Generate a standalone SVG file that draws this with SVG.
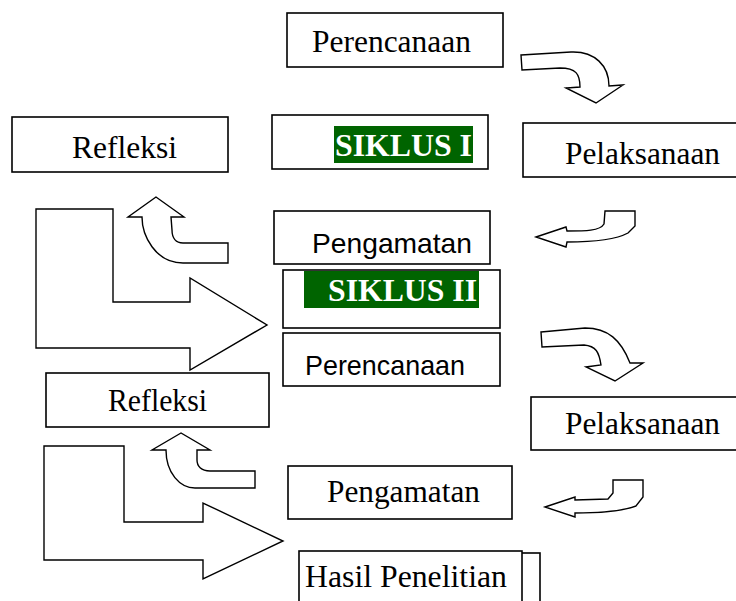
<svg xmlns="http://www.w3.org/2000/svg" width="736" height="601" viewBox="0 0 736 601">
<style>
.box{fill:#fff;stroke:#000;stroke-width:1.6}
.arr{fill:#fff;stroke:#000;stroke-width:1.4;stroke-linejoin:miter}
.serif{font-family:"Liberation Serif","Times New Roman",serif;font-size:31.5px;fill:#000}
.sans{font-family:"Liberation Sans",Arial,sans-serif;font-size:28px;fill:#000}
.bold{font-family:"Liberation Serif","Times New Roman",serif;font-size:32px;font-weight:bold;fill:#fff}
.hl{fill:#006400}
</style>
<rect width="736" height="601" fill="#fff"/>
<g id="connectors">
<path class="arr" d="M521,55 L571,52 C595,51 609,66 609,86 L623,85 L596,103 L566,88 L580,87 C580,74 576,68 560,68 L522,70 Z"/>
<path class="arr" d="M536,237 L566,227 L567,231 C585,231 600,231 604,224 L605,211 L635,211 L635,226 L628,233 C615,240 590,242 567,242 L566,247 Z"/>
<path class="arr" d="M541,332 L585,328 C608,328 621,340 630,363 L643,363 L615,381 L586,367 L601,365 C599,352 596,346 584,345 L542,347 Z"/>
<path class="arr" d="M545,507 L575,497 L575,500 L608,499 L613,493 L613,480 L643,480 L643,497 L636,506 C620,512 600,513 575,513 L575,517 Z"/>
<path class="arr" d="M156,197 L128,217 L142,217 C142,235 155,263 183,263 L228,263 L228,243 L183,243 C176,243 172,238 172,230 L171,217 L184,217 Z"/>
<path class="arr" d="M181,433 L152,450 L166,450 C166,473 180,488 195,488 L255,488 L255,471 L210,471 C201,471 197,466 197,460 L197,450 L210,450 Z"/>
<path class="arr" d="M36,209 L113,209 L113,302 L190,302 L190,278 L267,325 L190,370 L190,348 L36,348 Z"/>
<path class="arr" d="M44,446 L124,446 L124,522 L203,522 L203,503 L283,541 L203,579 L203,560 L44,560 Z"/>
</g>
<g id="perencanaan1">
<rect class="box" x="287" y="13" width="216" height="54"/>
<text class="serif" x="312" y="52" textLength="159" lengthAdjust="spacingAndGlyphs">Perencanaan</text>
</g>
<g id="refleksi1">
<rect class="box" x="12" y="117" width="216" height="55"/>
<text class="serif" x="72" y="158" textLength="105" lengthAdjust="spacingAndGlyphs">Refleksi</text>
</g>
<g id="siklus1">
<rect class="box" x="272" y="115" width="216" height="54"/>
<rect class="hl" x="334" y="126" width="139" height="37"/>
<text class="bold" x="335" y="156" textLength="137" lengthAdjust="spacingAndGlyphs">SIKLUS I</text>
</g>
<g id="pelaksanaan1">
<rect class="box" x="523" y="123" width="220" height="54"/>
<text class="serif" x="565" y="164" textLength="155" lengthAdjust="spacingAndGlyphs">Pelaksanaan</text>
</g>
<g id="pengamatan1">
<rect class="box" x="274" y="211" width="216" height="53"/>
<text class="sans" x="312" y="253" textLength="160" lengthAdjust="spacingAndGlyphs">Pengamatan</text>
</g>
<g id="siklus2">
<rect class="box" x="283" y="270" width="217" height="58"/>
<rect class="hl" x="304" y="271" width="175" height="37"/>
<text class="bold" x="328" y="301" textLength="149" lengthAdjust="spacingAndGlyphs">SIKLUS II</text>
</g>
<g id="perencanaan2">
<rect class="box" x="283" y="333" width="217" height="53"/>
<text class="sans" x="305" y="375" textLength="160" lengthAdjust="spacingAndGlyphs">Perencanaan</text>
</g>
<g id="refleksi2">
<rect class="box" x="46" y="373" width="223" height="54"/>
<text class="serif" x="108" y="411" textLength="99" lengthAdjust="spacingAndGlyphs">Refleksi</text>
</g>
<g id="pelaksanaan2">
<rect class="box" x="531" y="397" width="212" height="53"/>
<text class="serif" x="565" y="434" textLength="155" lengthAdjust="spacingAndGlyphs">Pelaksanaan</text>
</g>
<g id="pengamatan2">
<rect class="box" x="288" y="466" width="224" height="53"/>
<text class="serif" x="327" y="502" textLength="153" lengthAdjust="spacingAndGlyphs">Pengamatan</text>
</g>
<g id="hasil">
<rect class="box" x="302" y="553" width="238" height="60"/>
<rect class="box" x="299" y="551" width="223" height="62" fill="none"/>
<text class="serif" x="305" y="587" textLength="202" lengthAdjust="spacingAndGlyphs">Hasil Penelitian</text>
</g>
</svg>
